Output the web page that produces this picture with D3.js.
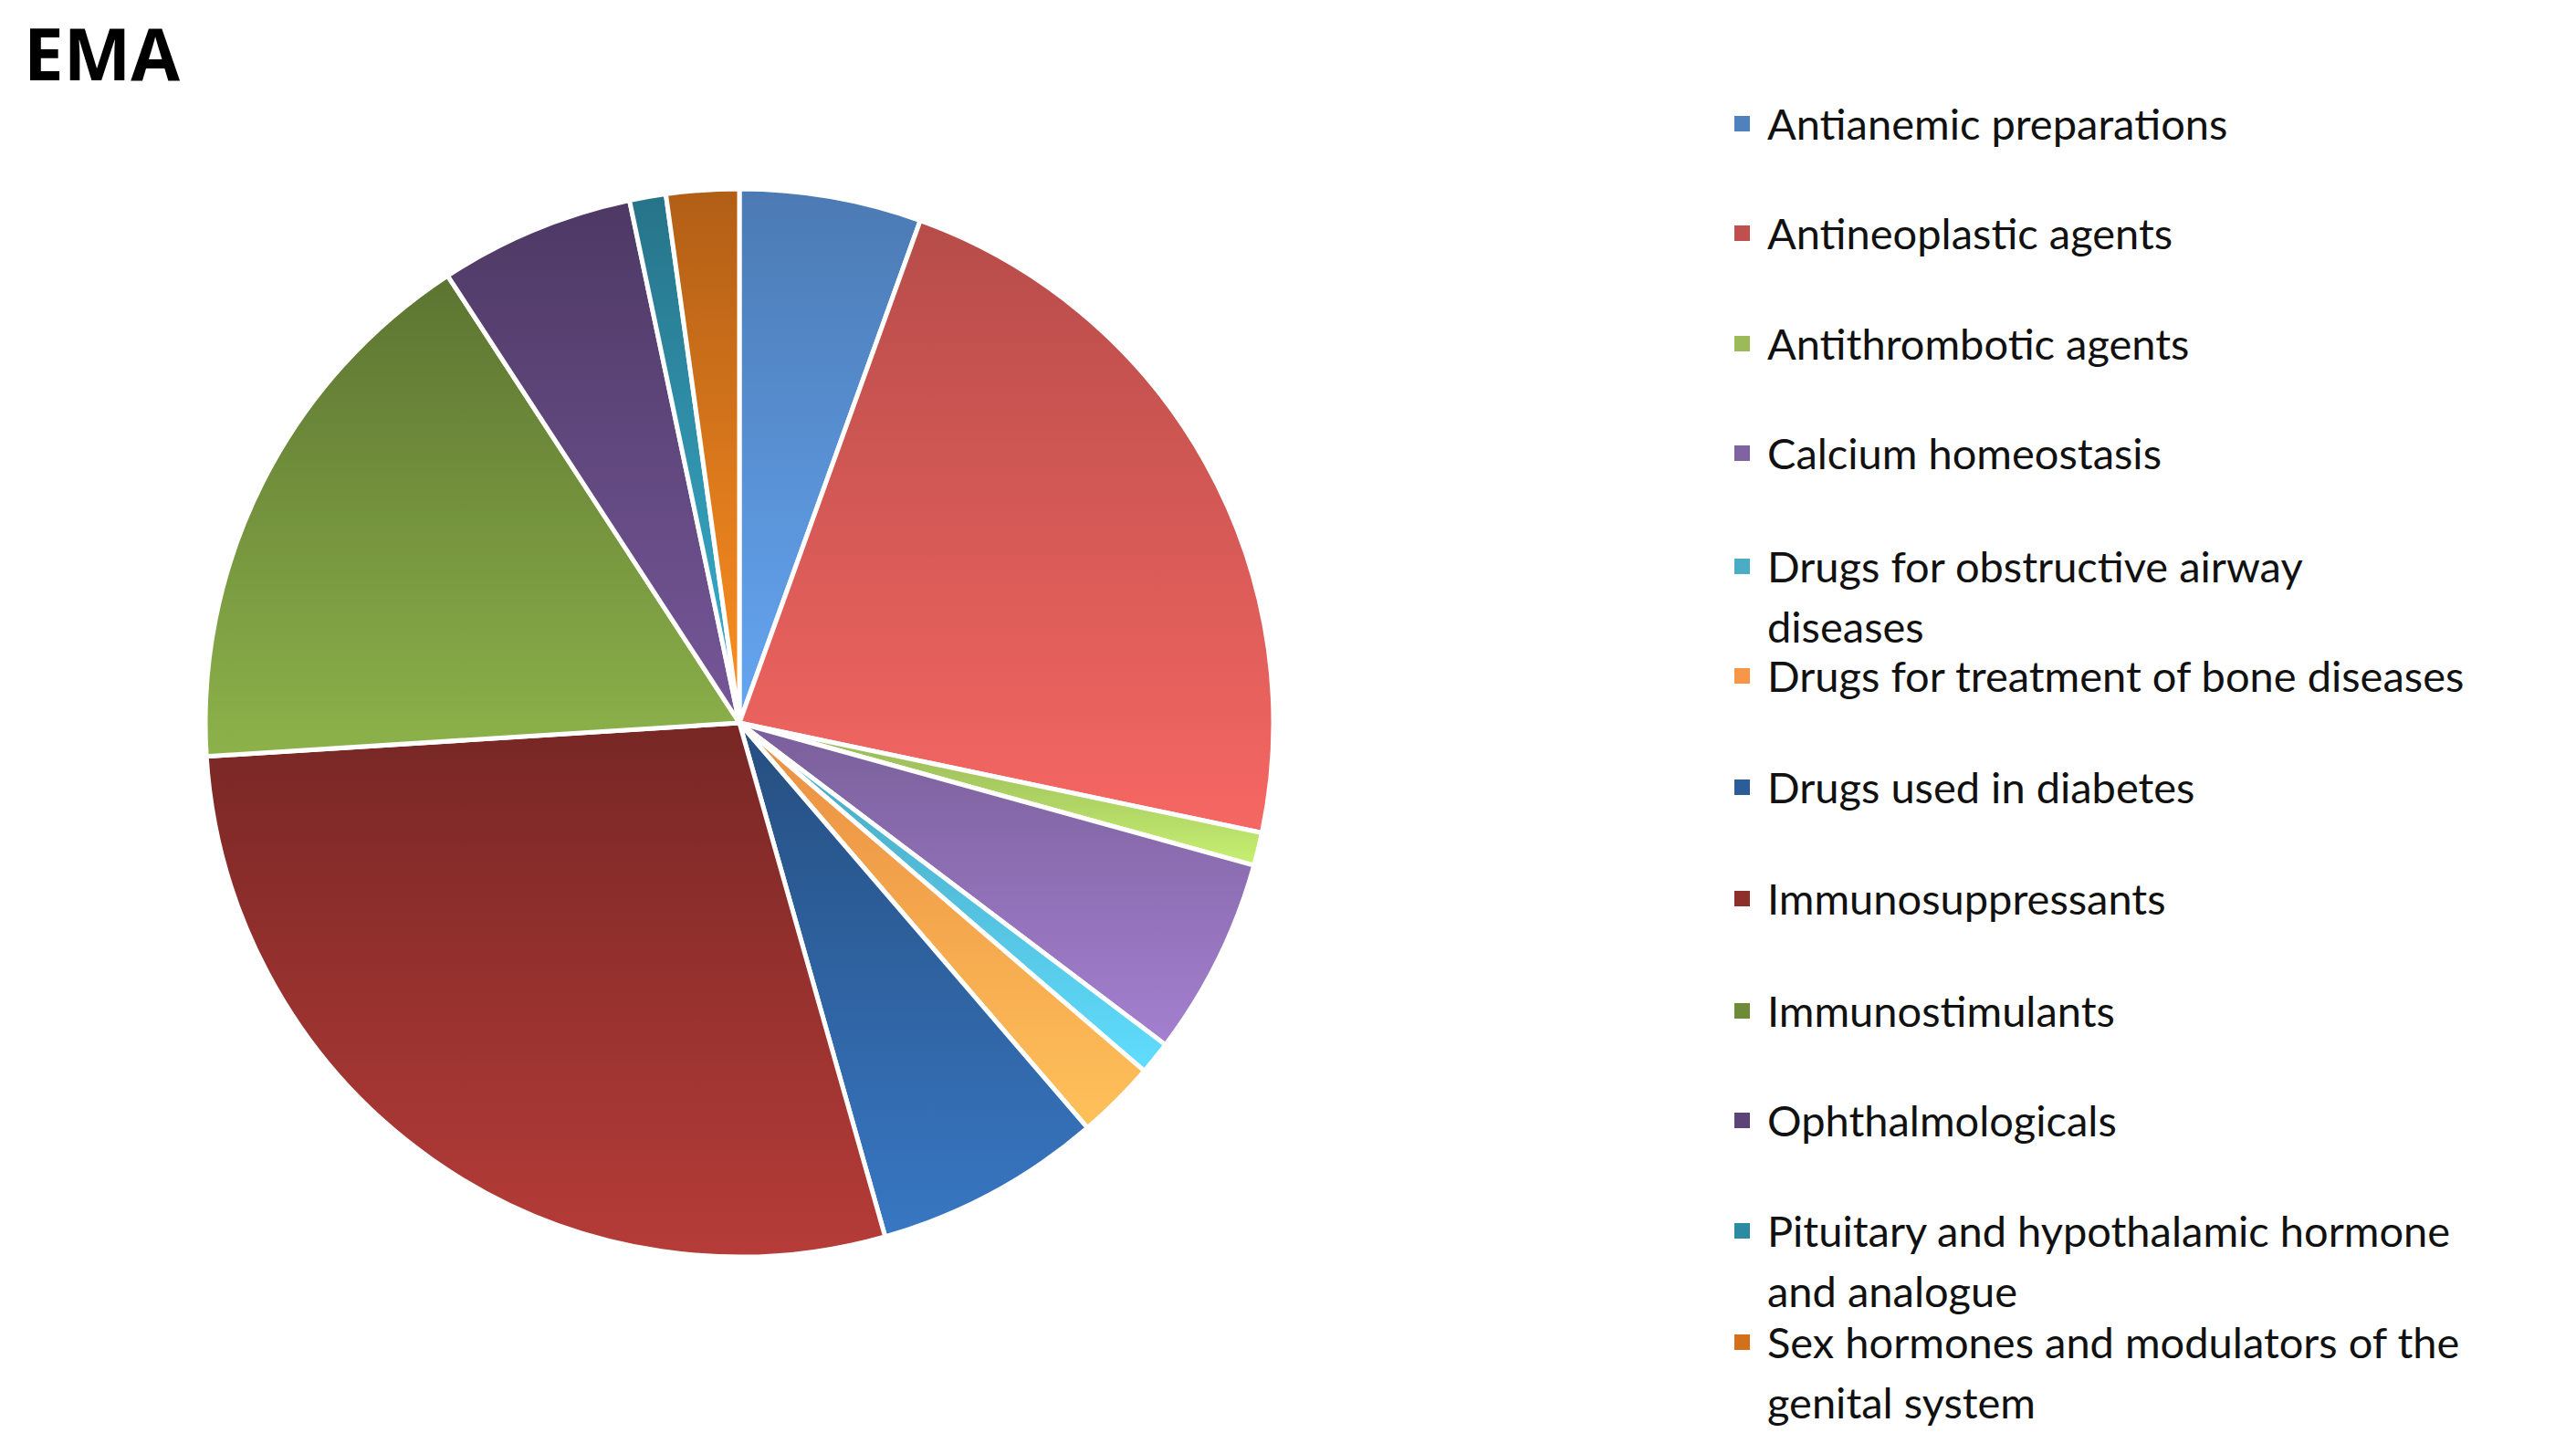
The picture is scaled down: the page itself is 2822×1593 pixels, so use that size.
<!DOCTYPE html>
<html><head><meta charset="utf-8">
<script src="https://cdn.jsdelivr.net/npm/d3@7"></script>
<style>body{margin:0;background:#fff}</style>
</head><body>
<svg id="chart" width="2822" height="1593"></svg>
<script>
// categories, in drawing order (clockwise from 12 o'clock)
const categories = [
  "Antianemic preparations", "Antineoplastic agents", "Antithrombotic agents",
  "Calcium homeostasis", "Drugs for obstructive airway diseases",
  "Drugs for treatment of bone diseases", "Drugs used in diabetes",
  "Immunosuppressants", "Immunostimulants", "Ophthalmologicals",
  "Pituitary and hypothalamic hormone and analogue",
  "Sex hormones and modulators of the genital system"
];
// share of each slice (%)
const values = [5.5, 22.8, 1.0, 6.0, 1.0, 2.4, 6.9, 28.4, 16.8, 5.9, 1.1, 2.2];
// legend text split into lines as in the picture
const legendLines = [
  ["Antianemic preparations"], ["Antineoplastic agents"], ["Antithrombotic agents"],
  ["Calcium homeostasis"], ["Drugs for obstructive airway", "diseases"],
  ["Drugs for treatment of bone diseases"], ["Drugs used in diabetes"],
  ["Immunosuppressants"], ["Immunostimulants"], ["Ophthalmologicals"],
  ["Pituitary and hypothalamic hormone", "and analogue"],
  ["Sex hormones and modulators of the", "genital system"]
];
const colors = ["#4F81BD","#C0504D","#9BBB59","#8064A2","#4BACC6","#F79646",
                "#2C5D98","#8E2F2C","#6E8B3A","#5C4477","#2D8AA3","#D3701A"];

const svg = d3.select("#chart");
const cx = 810, cy = 792, r = 585;

// gradients: darker at top, lighter at bottom
const defs = svg.append("defs");
colors.forEach((c, i) => {
  const g = defs.append("linearGradient").attr("id", "g" + i)
    .attr("x1", 0).attr("y1", 0).attr("x2", 0).attr("y2", 1);
  g.append("stop").attr("offset", "0%").attr("stop-color", d3.color(c).darker(i >= 6 ? 0.5 : 0.15));
  g.append("stop").attr("offset", "100%").attr("stop-color", d3.color(c).brighter(0.7));
});

svg.append("text").attr("x", 26).attr("y", 88)
  .attr("font-family", "Open Sans, sans-serif").attr("font-weight", "bold")
  .attr("font-size", 78).attr("fill", "#000").text("EMA");

const pie = d3.pie().sort(null).value(d => d)(values);
const arc = d3.arc().innerRadius(0).outerRadius(r);

svg.append("g").attr("transform", `translate(${cx},${cy})`)
  .selectAll("path").data(pie).join("path")
  .attr("d", arc)
  .attr("fill", (d, i) => `url(#g${i})`)
  .attr("stroke", "#fff").attr("stroke-width", 5).attr("stroke-linejoin", "round");

// legend
const rowY = [137, 257, 378, 498, 622, 742, 864, 986, 1109, 1229, 1350, 1472];
const leg = svg.append("g").attr("font-family", "Lato, sans-serif").attr("font-size", 47).attr("fill", "#111");
categories.forEach((c, i) => {
  leg.append("rect").attr("x", 1900).attr("y", rowY[i] - 10).attr("width", 17).attr("height", 17)
    .attr("fill", colors[i]);
  legendLines[i].forEach((t, j) => {
    leg.append("text").attr("x", 1936).attr("y", rowY[i] + 16 + j * 66).text(t);
  });
});
</script>
</body></html>
